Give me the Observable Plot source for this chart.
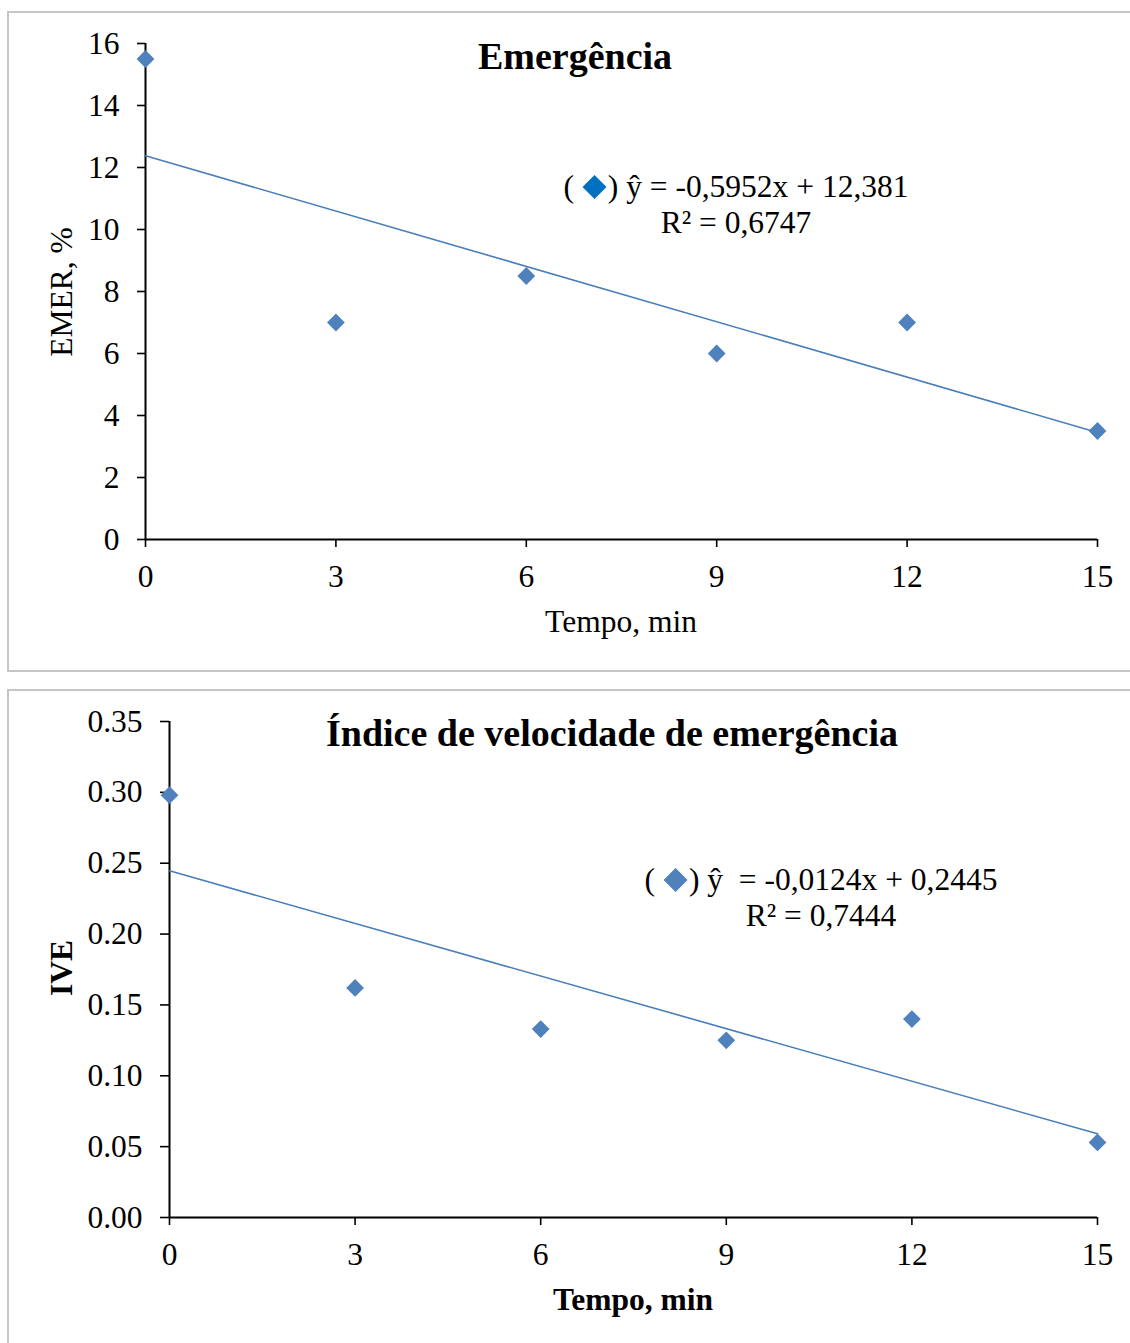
<!DOCTYPE html>
<html><head><meta charset="utf-8">
<script src="https://cdn.jsdelivr.net/npm/d3@7"></script>
<script src="https://cdn.jsdelivr.net/npm/@observablehq/plot@0.6"></script>
<style>
body{margin:0;width:1130px;height:1343px;overflow:hidden;background:#fff;position:relative;font-family:"Liberation Serif","Times New Roman",serif;color:#000;}
.box{position:absolute;border:2px solid #c6c6c6;left:7px;width:1200px;box-sizing:border-box;}
.t{position:absolute;white-space:nowrap;transform:translate(-50%,-50%);}
.rot{transform:translate(-50%,-50%) rotate(-90deg);}
.eq{position:absolute;white-space:nowrap;text-align:center;transform:translateX(-50%);font-size:31.5px;line-height:36px;}
.chart{position:absolute;left:0;}
</style></head><body>
<div class="box" style="top:11px;height:661px"></div>
<div class="box" style="top:689px;height:700px"></div>
<div id="c1" class="chart" style="top:0"></div>
<div id="c2" class="chart" style="top:680px"></div>

<div class="t" style="left:575px;top:56px;font-size:38px;font-weight:bold">Emergência</div>
<div class="t rot" style="left:62px;top:292px;font-size:31.5px">EMER, %</div>
<div class="t" style="left:621px;top:622px;font-size:31.5px">Tempo, min</div>
<div class="eq" style="left:736px;top:169px">( <svg width="26" height="26" viewBox="-13 -13 26 26" style="vertical-align:-3px"><path d="M0,-12L12,0L0,12L-12,0Z" fill="#0070c0"/></svg>) ŷ = -0,5952x + 12,381<br>R² = 0,6747</div>

<div class="t" style="left:612px;top:733px;font-size:38px;font-weight:bold">Índice de velocidade de emergência</div>
<div class="t rot" style="left:62px;top:968px;font-size:31.5px;font-weight:bold">IVE</div>
<div class="t" style="left:633px;top:1300px;font-size:31.5px;font-weight:bold">Tempo, min</div>
<div class="eq" style="left:821px;top:862px">( <svg width="26" height="26" viewBox="-13 -13 26 26" style="vertical-align:-3px"><path d="M0,-12L12,0L0,12L-12,0Z" fill="#4f81bd"/></svg>) ŷ &nbsp;= -0,0124x + 0,2445<br>R² = 0,7444</div>

<script>
const tempo = [0, 3, 6, 9, 12, 15];
const emer = [15.5, 7, 8.5, 6, 7, 3.5];
const ive = [0.298, 0.162, 0.133, 0.125, 0.140, 0.053];
const xTicks = [0, 3, 6, 9, 12, 15];
const emerTicks = [0, 2, 4, 6, 8, 10, 12, 14, 16];
const iveTicks = [0, 0.05, 0.10, 0.15, 0.20, 0.25, 0.30, 0.35];

const lineColor = "#4a7ebb";
const markColor = "#4f81bd";

function chart(yvals, opts) {
  const data = tempo.map((x, i) => ({x, y: yvals[i]}));
  return Plot.plot({
    width: 1130,
    height: opts.height,
    marginLeft: opts.ml,
    marginRight: 33,
    marginTop: opts.mt,
    marginBottom: opts.mb,
    style: {fontFamily: '"Liberation Serif","Times New Roman",serif', fontSize: "31.5px", color: "#000", background: "transparent", overflow: "visible"},
    x: {domain: [0, 15]},
    y: {domain: opts.domain},
    marks: [
      Plot.axisY({ticks: opts.yTicks, tickSize: opts.ts, tickPadding: 18, tickFormat: opts.fmt, label: null, stroke: "#000", strokeWidth: 1.6, fill: "#000", fontSize: 31.5}),
      Plot.axisX({ticks: xTicks, tickSize: 8, tickPadding: 17, label: null, stroke: "#000", strokeWidth: 1.6, fill: "#000", fontSize: 31.5}),
      Plot.ruleY([opts.domain[0]], {stroke: "#000", strokeWidth: 2}),
      Plot.ruleX([0], {stroke: "#000", strokeWidth: 2}),
      Plot.linearRegressionY(data, {x: "x", y: "y", ci: 0, stroke: lineColor, strokeWidth: 1.6}),
      Plot.dot(data, {x: "x", y: "y", symbol: "diamond2", r: 8, fill: markColor, stroke: "none"})
    ]
  });
}

document.getElementById("c1").append(chart(emer, {height: 680, ml: 145, mt: 43, mb: 141, domain: [0, 16], yTicks: emerTicks, ts: 8, fmt: d3.format("d")}));
document.getElementById("c2").append(chart(ive, {height: 663, ml: 169, mt: 41, mb: 126, domain: [0, 0.35], yTicks: iveTicks, ts: 9, fmt: d3.format(".2f")}));
</script>
</body></html>
